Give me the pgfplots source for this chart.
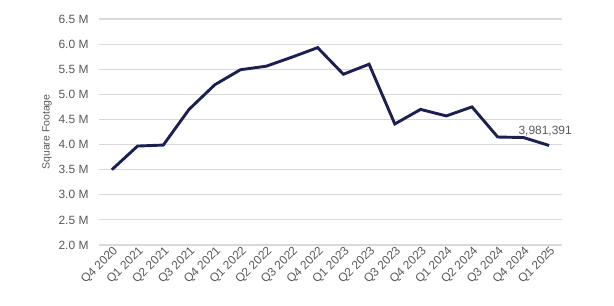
\documentclass[border=0pt]{standalone}
\usepackage{pgfplots}
\pgfplotsset{compat=1.18}
\usepackage{fontspec}
\setmainfont{Liberation Sans}
\definecolor{navy}{HTML}{1B2050}
\definecolor{txt}{HTML}{595959}
\definecolor{gridc}{HTML}{D9D9D9}
\begin{document}
\begin{tikzpicture}[x=1bp,y=1bp]
\path[use as bounding box] (0,0) rectangle (614,305);
\begin{axis}[
  at={(99bp,60bp)}, anchor=south west,
  scale only axis, width=463bp, height=226bp,
  xmin=-0.5, xmax=17.5, ymin=2.0, ymax=6.5,
  axis line style={draw=none},
  xtick style={draw=none}, ytick style={draw=none},
  xmajorgrids=false, ymajorgrids=true,
  major grid style={draw=gridc, line width=1.2bp},
  ytick={2.0,2.5,...,6.5},
  yticklabel={\pgfmathprintnumber[fixed,fixed zerofill,precision=1]{\tick}~M},
  /pgf/number format/assume math mode=true,
  xtick={0,...,17},
  xticklabels={Q4 2020,Q1 2021,Q2 2021,Q3 2021,Q4 2021,Q1 2022,Q2 2022,Q3 2022,Q4 2022,Q1 2023,Q2 2023,Q3 2023,Q4 2023,Q1 2024,Q2 2024,Q3 2024,Q4 2024,Q1 2025},
  xticklabel style={rotate=45, anchor=east, font=\fontsize{12}{12}\selectfont, text=txt, inner sep=1bp, yshift=-6bp, xshift=1bp},
  yticklabel style={font=\fontsize{12}{12}\selectfont, text=txt, xshift=-7bp},
  ylabel={Square Footage},
  ylabel style={font=\fontsize{10.5}{12}\selectfont, text=txt},
  clip=false,
]
\addplot[navy, line width=2.9bp, line join=miter] coordinates {
(0,3.50) (1,3.97) (2,3.99) (3,4.70) (4,5.19) (5,5.49) (6,5.56) (7,5.74) (8,5.93)
(9,5.40) (10,5.60) (11,4.41) (12,4.70) (13,4.57) (14,4.75) (15,4.15) (16,4.14) (17,3.981391)
};
\node[anchor=south, font=\fontsize{12}{12}\selectfont, text=txt, xshift=-4bp, yshift=6bp] at (axis cs:17,3.981391) {3,981,391};
\end{axis}
\end{tikzpicture}
\end{document}
